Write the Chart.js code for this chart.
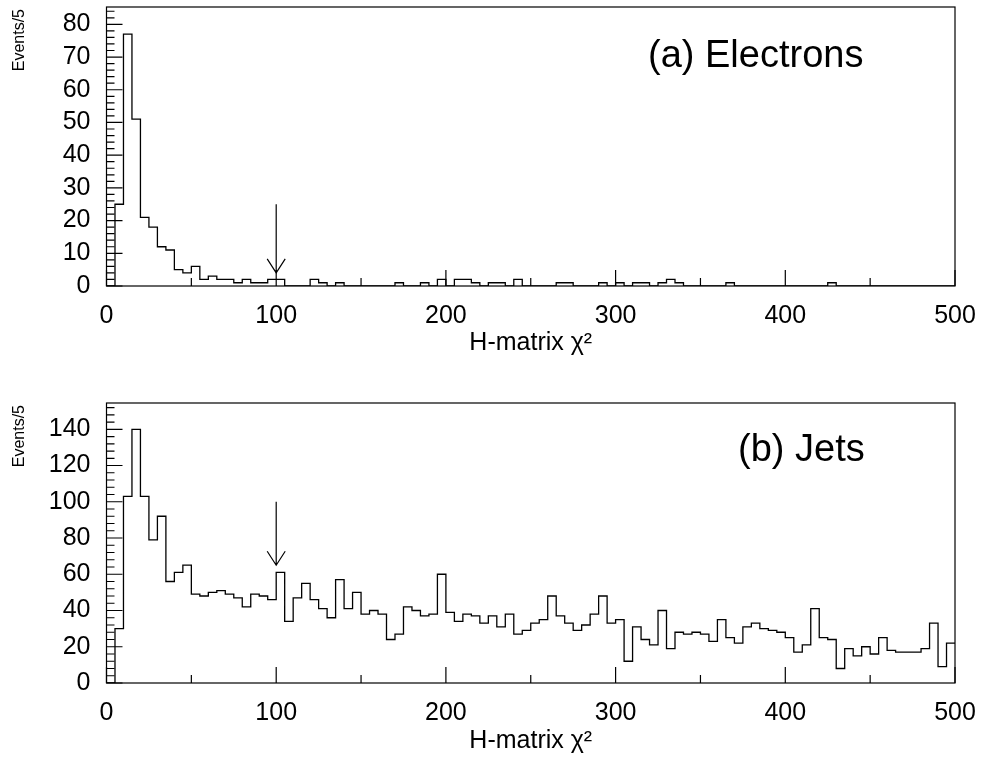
<!DOCTYPE html>
<html>
<head>
<meta charset="utf-8">
<script src="https://cdn.jsdelivr.net/npm/chart.js@4.4.0/dist/chart.umd.min.js"></script>
<style>
  body { margin: 0; background: #fff; overflow: hidden; }
  .panel { position: absolute; left: 0; width: 985px; }
</style>
</head>
<body>
<div class="panel" style="top:-16px;height:396px"><canvas id="electrons"></canvas></div>
<div class="panel" style="top:380px;height:380px"><canvas id="jets"></canvas></div>
<script>
// bin width 5, bins from 0 to 500
const binWidth = 5;
const electronCounts = [
  0,25,77,51,21,18,12,11,5,4,
  6,2,3,2,2,1,2,1,1,2,
  2,0,0,0,2,1,0,1,0,0,
  0,0,0,0,1,0,0,1,0,2,
  0,2,2,1,0,1,1,0,2,0,
  0,0,0,1,1,0,0,0,1,0,
  1,0,1,1,0,1,2,1,0,0,
  0,0,0,1,0,0,0,0,0,0,
  0,0,0,0,0,1,0,0,0,0,
  0,0,0,0,0,0,0,0,0,0
];
const jetCounts = [
  0,30,103,140,103,79,92,56,61,65,
  49,48,50,51,49,47,42,49,48,46,
  61,34,47,55,46,41,36,57,41,50,
  38,40,38,24,27,42,40,37,38,60,
  39,34,38,37,33,37,31,38,27,29,
  33,35,48,37,33,29,32,38,48,33,
  35,12,31,24,21,40,19,28,27,28,
  27,23,35,25,22,31,33,30,29,28,
  25,17,21,41,25,24,8,19,15,20,
  16,25,18,17,17,17,19,33,9,22
];
const xTickLabels = [0, 100, 200, 300, 400, 500];
const cutValue = 100;

const FONT = "'Liberation Sans', Arial, sans-serif";

// point at each bin's left edge, plus one closing point at 500
function toSteps(counts){
  let pts = counts.map((v, i) => ({x: i*binWidth, y: v}));
  pts.push({x: counts.length*binWidth, y: counts[counts.length-1]});
  return pts;
}

// ROOT style frame with ticks pointing inwards, plus the cut arrow
function framePlugin(opt){
  return {
    id: 'frame',
    afterDraw(chart){
      const ctx = chart.ctx, a = chart.chartArea;
      const xs = chart.scales.x, ys = chart.scales.y;
      ctx.save();
      ctx.strokeStyle = '#000';
      ctx.lineWidth = 1.2;
      ctx.strokeRect(a.left, a.top, a.right-a.left, a.bottom-a.top);
      ctx.beginPath();
      for(let v=0; v<=500; v+=10){
        let len = v%100==0 ? 16 : (v%50==0 ? 8 : 0);
        if(len==0) continue;
        let px = xs.getPixelForValue(v);
        ctx.moveTo(px, a.bottom); ctx.lineTo(px, a.bottom-len);
      }
      for(let v=0; v<=ys.max; v+=opt.minor){
        let len = (Math.round(v/opt.minor) % opt.nMinor == 0) ? 16 : 8;
        let py = ys.getPixelForValue(v);
        ctx.moveTo(a.left, py); ctx.lineTo(a.left+len, py);
      }
      ctx.stroke();
      // arrow
      let ax = xs.getPixelForValue(cutValue);
      let y1 = ys.getPixelForValue(opt.arrowFrom), y2 = ys.getPixelForValue(opt.arrowTo);
      ctx.beginPath();
      ctx.moveTo(ax, y1); ctx.lineTo(ax, y2);
      ctx.moveTo(ax-9, y2-14); ctx.lineTo(ax, y2); ctx.lineTo(ax+9, y2-14);
      ctx.stroke();
      // labels
      ctx.fillStyle = '#000';
      ctx.font = '38px ' + FONT;
      ctx.textAlign = 'left'; ctx.textBaseline = 'alphabetic';
      ctx.fillText(opt.label, opt.labelX, a.top + opt.labelDy);
      ctx.save();
      ctx.translate(24, a.top + 2);
      ctx.rotate(-Math.PI/2);
      ctx.font = '16px ' + FONT;
      ctx.textAlign = 'right';
      ctx.fillText('Events/5', 0, 0);
      ctx.restore();
      ctx.restore();
    }
  };
}

function makeChart(id, counts, opt){
  return new Chart(document.getElementById(id), {
    type: 'line',
    data: { datasets: [{
      data: toSteps(counts),
      stepped: 'before',
      borderColor: '#000',
      borderWidth: 1.3,
      pointRadius: 0,
      fill: false
    }]},
    options: {
      responsive: false,
      animation: false,
      events: [],
      layout: { padding: { top: opt.padTop, right: 30, left: 0, bottom: opt.padBottom } },
      plugins: { legend: {display: false}, tooltip: {enabled: false} },
      scales: {
        x: {
          type: 'linear', min: 0, max: 500,
          afterBuildTicks: s => { s.ticks = xTickLabels.map(v => ({value: v})); },
          afterFit: s => { s.height = opt.xHeight; },
          grid: { display: false },
          border: { display: false },
          ticks: { color: '#000', font: {family: FONT, size: 25}, padding: 7, maxRotation: 0 },
          title: { display: true, text: 'H-matrix \u03c7\u00b2', color: '#000',
                   font: {family: FONT, size: 25}, padding: {top: 0, bottom: 0} }
        },
        y: {
          min: 0, max: opt.yMax,
          afterBuildTicks: s => {
            let t = [];
            for(let v=0; v<=s.max; v+=opt.major) t.push({value: v});
            s.ticks = t;
          },
          afterFit: s => { s.width = 106.5; },
          grid: { display: false },
          border: { display: false },
          ticks: { color: '#000', font: {family: FONT, size: 25}, padding: 8 }
        }
      }
    },
    plugins: [framePlugin(opt)]
  });
}

function sizeCanvas(id, h){
  let c = document.getElementById(id);
  c.width = 985; c.height = h;
  c.style.width = '985px'; c.style.height = h + 'px';
}
sizeCanvas('electrons', 396); sizeCanvas('jets', 380);

makeChart('electrons', electronCounts, {
  yMax: 85.3, major: 10, minor: 2, nMinor: 5, padTop: 3.5, padBottom: 22, xHeight: 72,
  arrowFrom: 25, arrowTo: 4, label: '(a) Electrons', labelX: 648, labelDy: 60
});
makeChart('jets', jetCounts, {
  yMax: 154.5, major: 20, minor: 4, nMinor: 5, padTop: 18.5, padBottom: 4, xHeight: 73,
  arrowFrom: 100, arrowTo: 65, label: '(b) Jets', labelX: 738, labelDy: 58
});
</script>
</body>
</html>
